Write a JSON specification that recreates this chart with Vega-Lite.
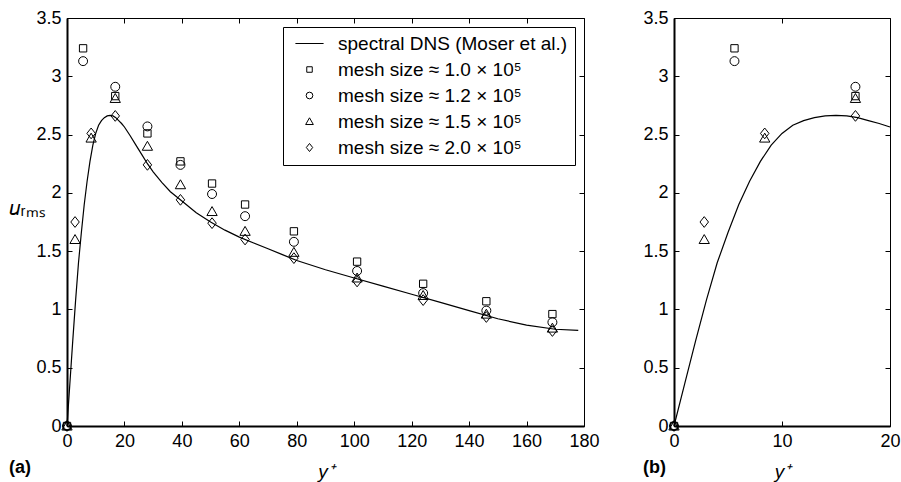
{
  "$schema": "https://vega.github.io/schema/vega-lite/v6.json",
  "padding": {"left": 8, "top": 8, "right": 0, "bottom": 0},
  "config": {
    "font": "Liberation Sans",
    "view": {"stroke": "black", "strokeWidth": 1},
    "axis": {"grid": false, "domainColor": "black", "domainWidth": 2, "tickColor": "black", "tickWidth": 1, "tickSize": -5, "labelFontSize": 18, "labelColor": "black", "labelFont": "Liberation Sans", "labelFlush": false, "labelOverlap": false, "titleColor": "black", "titleFontSize": 19, "titleFontWeight": "normal", "titleFont": "Liberation Sans", "labelPadding": 11, "format": "~f"},
    "title": {"fontSize": 18, "fontWeight": "bold", "color": "black", "font": "Liberation Sans"}
  },
  "datasets": {
    "dns": [
      {"yp": 0, "u": 0}, {"yp": 1, "u": 0.365}, {"yp": 2, "u": 0.73}, {"yp": 3, "u": 1.08}, {"yp": 4, "u": 1.40},
      {"yp": 5, "u": 1.66}, {"yp": 6, "u": 1.90}, {"yp": 7, "u": 2.10}, {"yp": 8, "u": 2.27}, {"yp": 9, "u": 2.41},
      {"yp": 10, "u": 2.51}, {"yp": 11, "u": 2.58}, {"yp": 12, "u": 2.62}, {"yp": 13, "u": 2.645}, {"yp": 14, "u": 2.66},
      {"yp": 15, "u": 2.665}, {"yp": 16, "u": 2.66}, {"yp": 17, "u": 2.645}, {"yp": 18, "u": 2.62}, {"yp": 19, "u": 2.595},
      {"yp": 20, "u": 2.565}, {"yp": 22, "u": 2.49}, {"yp": 24, "u": 2.41}, {"yp": 26, "u": 2.33}, {"yp": 28, "u": 2.25},
      {"yp": 30, "u": 2.18}, {"yp": 33, "u": 2.09}, {"yp": 36, "u": 2.01}, {"yp": 40, "u": 1.93}, {"yp": 45, "u": 1.83},
      {"yp": 50, "u": 1.75}, {"yp": 55, "u": 1.68}, {"yp": 60, "u": 1.62}, {"yp": 65, "u": 1.57}, {"yp": 70, "u": 1.52},
      {"yp": 75, "u": 1.47}, {"yp": 80, "u": 1.42}, {"yp": 90, "u": 1.34}, {"yp": 100, "u": 1.27}, {"yp": 110, "u": 1.20},
      {"yp": 120, "u": 1.13}, {"yp": 130, "u": 1.06}, {"yp": 140, "u": 0.99}, {"yp": 150, "u": 0.92}, {"yp": 160, "u": 0.865},
      {"yp": 170, "u": 0.83}, {"yp": 178, "u": 0.82}
    ],
    "les": [
      {"mesh": "mesh size ≈ 1.0 × 10⁵", "yp": 0, "u": 0},
      {"mesh": "mesh size ≈ 1.0 × 10⁵", "yp": 5.6, "u": 3.24},
      {"mesh": "mesh size ≈ 1.0 × 10⁵", "yp": 16.8, "u": 2.83},
      {"mesh": "mesh size ≈ 1.0 × 10⁵", "yp": 28, "u": 2.51},
      {"mesh": "mesh size ≈ 1.0 × 10⁵", "yp": 39.5, "u": 2.27},
      {"mesh": "mesh size ≈ 1.0 × 10⁵", "yp": 50.5, "u": 2.08},
      {"mesh": "mesh size ≈ 1.0 × 10⁵", "yp": 62, "u": 1.90},
      {"mesh": "mesh size ≈ 1.0 × 10⁵", "yp": 79, "u": 1.67},
      {"mesh": "mesh size ≈ 1.0 × 10⁵", "yp": 101, "u": 1.41},
      {"mesh": "mesh size ≈ 1.0 × 10⁵", "yp": 124, "u": 1.22},
      {"mesh": "mesh size ≈ 1.0 × 10⁵", "yp": 146, "u": 1.07},
      {"mesh": "mesh size ≈ 1.0 × 10⁵", "yp": 169, "u": 0.96},
      {"mesh": "mesh size ≈ 1.2 × 10⁵", "yp": 0, "u": 0},
      {"mesh": "mesh size ≈ 1.2 × 10⁵", "yp": 5.6, "u": 3.13},
      {"mesh": "mesh size ≈ 1.2 × 10⁵", "yp": 16.8, "u": 2.91},
      {"mesh": "mesh size ≈ 1.2 × 10⁵", "yp": 28, "u": 2.57},
      {"mesh": "mesh size ≈ 1.2 × 10⁵", "yp": 39.5, "u": 2.24},
      {"mesh": "mesh size ≈ 1.2 × 10⁵", "yp": 50.5, "u": 1.99},
      {"mesh": "mesh size ≈ 1.2 × 10⁵", "yp": 62, "u": 1.80},
      {"mesh": "mesh size ≈ 1.2 × 10⁵", "yp": 79, "u": 1.58},
      {"mesh": "mesh size ≈ 1.2 × 10⁵", "yp": 101, "u": 1.33},
      {"mesh": "mesh size ≈ 1.2 × 10⁵", "yp": 124, "u": 1.14},
      {"mesh": "mesh size ≈ 1.2 × 10⁵", "yp": 146, "u": 0.99},
      {"mesh": "mesh size ≈ 1.2 × 10⁵", "yp": 169, "u": 0.89},
      {"mesh": "mesh size ≈ 1.5 × 10⁵", "yp": 0, "u": 0},
      {"mesh": "mesh size ≈ 1.5 × 10⁵", "yp": 2.8, "u": 1.60},
      {"mesh": "mesh size ≈ 1.5 × 10⁵", "yp": 8.4, "u": 2.47},
      {"mesh": "mesh size ≈ 1.5 × 10⁵", "yp": 16.8, "u": 2.81},
      {"mesh": "mesh size ≈ 1.5 × 10⁵", "yp": 28, "u": 2.40},
      {"mesh": "mesh size ≈ 1.5 × 10⁵", "yp": 39.5, "u": 2.07},
      {"mesh": "mesh size ≈ 1.5 × 10⁵", "yp": 50.5, "u": 1.84},
      {"mesh": "mesh size ≈ 1.5 × 10⁵", "yp": 62, "u": 1.67},
      {"mesh": "mesh size ≈ 1.5 × 10⁵", "yp": 79, "u": 1.49},
      {"mesh": "mesh size ≈ 1.5 × 10⁵", "yp": 101, "u": 1.27},
      {"mesh": "mesh size ≈ 1.5 × 10⁵", "yp": 124, "u": 1.12},
      {"mesh": "mesh size ≈ 1.5 × 10⁵", "yp": 146, "u": 0.96},
      {"mesh": "mesh size ≈ 1.5 × 10⁵", "yp": 169, "u": 0.84},
      {"mesh": "mesh size ≈ 2.0 × 10⁵", "yp": 0, "u": 0},
      {"mesh": "mesh size ≈ 2.0 × 10⁵", "yp": 2.8, "u": 1.75},
      {"mesh": "mesh size ≈ 2.0 × 10⁵", "yp": 8.4, "u": 2.51},
      {"mesh": "mesh size ≈ 2.0 × 10⁵", "yp": 16.8, "u": 2.66},
      {"mesh": "mesh size ≈ 2.0 × 10⁵", "yp": 28, "u": 2.24},
      {"mesh": "mesh size ≈ 2.0 × 10⁵", "yp": 39.5, "u": 1.94},
      {"mesh": "mesh size ≈ 2.0 × 10⁵", "yp": 50.5, "u": 1.74},
      {"mesh": "mesh size ≈ 2.0 × 10⁵", "yp": 62, "u": 1.60},
      {"mesh": "mesh size ≈ 2.0 × 10⁵", "yp": 79, "u": 1.44},
      {"mesh": "mesh size ≈ 2.0 × 10⁵", "yp": 101, "u": 1.24},
      {"mesh": "mesh size ≈ 2.0 × 10⁵", "yp": 124, "u": 1.08},
      {"mesh": "mesh size ≈ 2.0 × 10⁵", "yp": 146, "u": 0.935},
      {"mesh": "mesh size ≈ 2.0 × 10⁵", "yp": 169, "u": 0.815}
    ]
  },
  "resolve": {"scale": {"shape": "independent"}, "legend": {"shape": "independent"}},
  "spacing": 42,
  "hconcat": [
    {
      "width": 517,
      "height": 408,
      "title": {"text": "(a)", "orient": "bottom", "anchor": "start", "frame": "bounds", "offset": -22},
      "layer": [
        {
          "data": {"name": "dns"},
          "mark": {"type": "line", "color": "black", "strokeWidth": 1.2},
          "encoding": {
            "x": {"field": "yp", "type": "quantitative", "scale": {"domain": [0, 180], "nice": false},
                  "axis": {"orient": "bottom", "values": [0, 20, 40, 60, 80, 100, 120, 140, 160, 180], "title": "y⁺", "titleFontStyle": "italic", "titlePadding": 12}},
            "y": {"field": "u", "type": "quantitative", "scale": {"domain": [0, 3.5], "nice": false},
                  "axis": {"orient": "left", "values": [0, 0.5, 1, 1.5, 2, 2.5, 3, 3.5], "title": "𝑢ᵣₘₛ", "titleFontSize": 21, "titleAngle": 0, "titleAlign": "center", "titleBaseline": "middle", "titleX": -40, "titleY": 190}}
          }
        },
        {
          "data": {"name": "les"},
          "mark": {"type": "point", "filled": false, "color": "black", "strokeWidth": 1, "opacity": 1, "size": 80},
          "encoding": {
            "x": {"field": "yp", "type": "quantitative", "axis": null},
            "y": {"field": "u", "type": "quantitative", "axis": null},
            "shape": {"field": "mesh", "type": "nominal",
              "scale": {"domain": ["spectral DNS (Moser et al.)", "mesh size ≈ 1.0 × 10⁵", "mesh size ≈ 1.2 × 10⁵", "mesh size ≈ 1.5 × 10⁵", "mesh size ≈ 2.0 × 10⁵"],
                        "range": ["M-4.2,0H4.2", "M-0.82,-0.82H0.82V0.82H-0.82Z", "circle", "M0,-1.1L1.15,0.9L-1.15,0.9Z", "M0,-1.2L0.95,0L0,1.2L-0.95,0Z"]},
              "legend": {"title": null, "orient": "top-right", "offset": 9, "padding": 7, "strokeColor": "black", "fillColor": "white",
                         "labelFontSize": 19, "labelFont": "Liberation Sans", "labelColor": "black", "labelLimit": 400,
                         "symbolSize": 45, "symbolStrokeColor": "black", "symbolStrokeWidth": 1, "rowPadding": 6, "symbolOffset": 10, "labelOffset": 19}}
          }
        },
        {
          "data": {"name": "dns"},
          "mark": {"type": "point", "opacity": 0},
          "encoding": {
            "x": {"field": "yp", "type": "quantitative", "axis": {"orient": "top", "values": [0, 20, 40, 60, 80, 100, 120, 140, 160, 180], "labels": false, "domain": false, "title": null}},
            "y": {"field": "u", "type": "quantitative", "axis": {"orient": "right", "values": [0, 0.5, 1, 1.5, 2, 2.5, 3, 3.5], "labels": false, "domain": false, "title": null}}
          }
        }
      ],
      "resolve": {"axis": {"x": "independent", "y": "independent"}}
    },
    {
      "width": 216,
      "height": 408,
      "title": {"text": "(b)", "orient": "bottom", "anchor": "start", "frame": "bounds", "offset": -22},
      "layer": [
        {
          "data": {"name": "dns"},
          "transform": [{"filter": "datum.yp <= 20"}],
          "mark": {"type": "line", "color": "black", "strokeWidth": 1.2},
          "encoding": {
            "x": {"field": "yp", "type": "quantitative", "scale": {"domain": [0, 20], "nice": false},
                  "axis": {"orient": "bottom", "values": [0, 10, 20], "title": "y⁺", "titleFontStyle": "italic", "titlePadding": 12}},
            "y": {"field": "u", "type": "quantitative", "scale": {"domain": [0, 3.5], "nice": false},
                  "axis": {"orient": "left", "values": [0, 0.5, 1, 1.5, 2, 2.5, 3, 3.5], "title": null}}
          }
        },
        {
          "data": {"name": "les"},
          "transform": [{"filter": "datum.yp <= 20"}],
          "mark": {"type": "point", "filled": false, "color": "black", "strokeWidth": 1, "opacity": 1, "size": 80},
          "encoding": {
            "x": {"field": "yp", "type": "quantitative", "axis": null},
            "y": {"field": "u", "type": "quantitative", "axis": null},
            "shape": {"field": "mesh", "type": "nominal",
              "scale": {"domain": ["spectral DNS (Moser et al.)", "mesh size ≈ 1.0 × 10⁵", "mesh size ≈ 1.2 × 10⁵", "mesh size ≈ 1.5 × 10⁵", "mesh size ≈ 2.0 × 10⁵"],
                        "range": ["M-4.2,0H4.2", "M-0.82,-0.82H0.82V0.82H-0.82Z", "circle", "M0,-1.1L1.15,0.9L-1.15,0.9Z", "M0,-1.2L0.95,0L0,1.2L-0.95,0Z"]},
              "legend": null}
          }
        },
        {
          "data": {"name": "dns"},
          "transform": [{"filter": "datum.yp <= 20"}],
          "mark": {"type": "point", "opacity": 0},
          "encoding": {
            "x": {"field": "yp", "type": "quantitative", "axis": {"orient": "top", "values": [0, 10, 20], "labels": false, "domain": false, "title": null}},
            "y": {"field": "u", "type": "quantitative", "axis": {"orient": "right", "values": [0, 0.5, 1, 1.5, 2, 2.5, 3, 3.5], "labels": false, "domain": false, "title": null}}
          }
        }
      ],
      "resolve": {"axis": {"x": "independent", "y": "independent"}}
    }
  ]
}
